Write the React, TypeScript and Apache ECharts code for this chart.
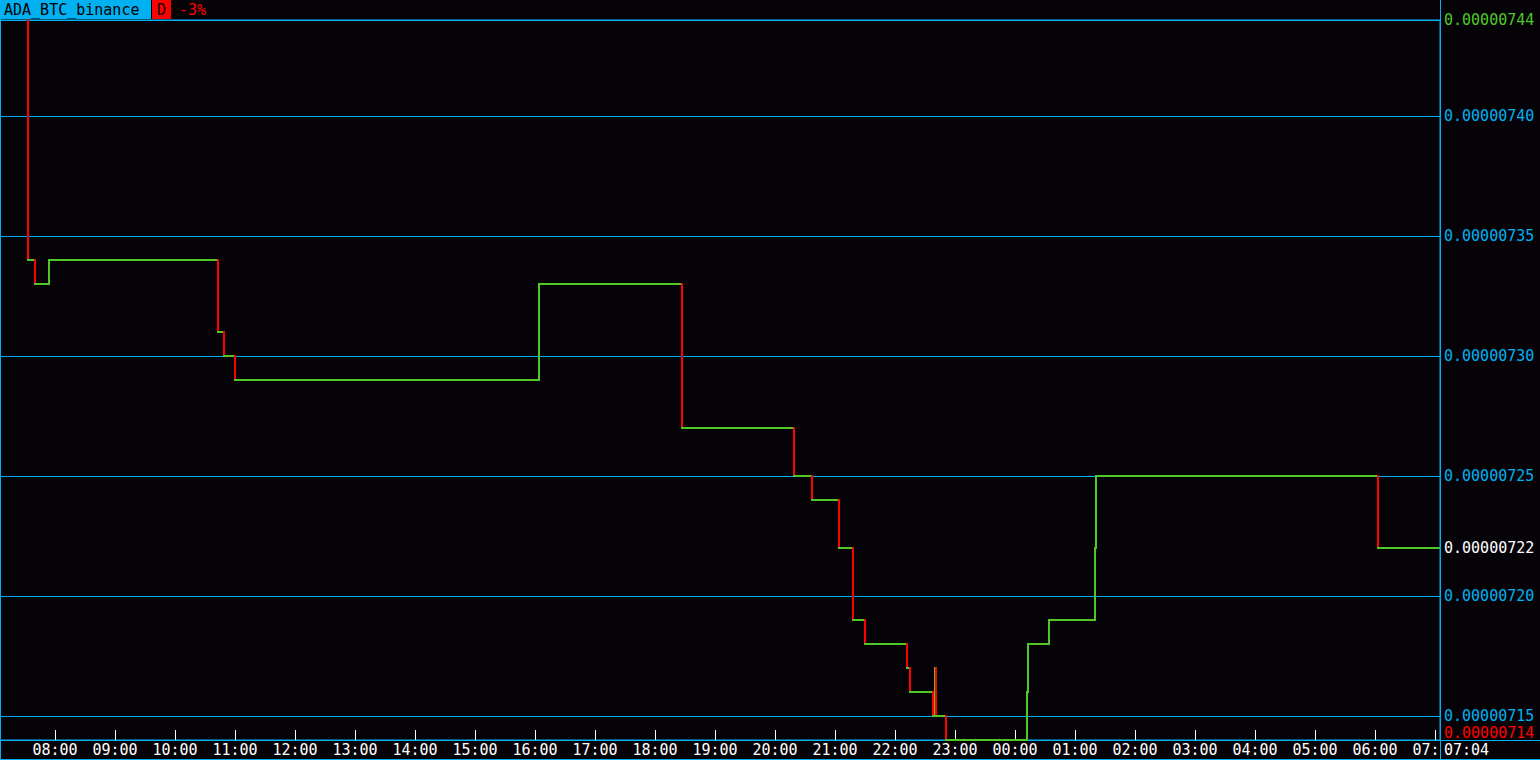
import React, { useEffect, useRef } from 'react';
import * as echarts from 'echarts';

// ---- data ----
const SYMBOL = 'ADA_BTC_binance';
const PERIOD = 'D';
const CHANGE = '-3%';
const SESSION_START = '07:05';
const LAST_TIME = '07:04';
const START_TIME = '07:33';
const START_PRICE = 0.00000744;
const CHANGE_TIMES = [
  '07:33', '07:40', '07:54', '10:43', '10:49', '11:00', '16:04', '18:27', '20:19', '20:37',
  '21:04', '21:18', '21:30', '22:12', '22:15', '22:38', '22:40', '22:41', '22:51', '00:12',
  '00:13', '00:34', '01:20', '01:21', '06:03',
];
const CHANGE_PRICES = [
  0.00000734, 0.00000733, 0.00000734, 0.00000731, 0.0000073, 0.00000729, 0.00000733, 0.00000727, 0.00000725, 0.00000724,
  0.00000722, 0.00000719, 0.00000718, 0.00000717, 0.00000716, 0.00000715, 0.00000717, 0.00000715, 0.00000714, 0.00000716,
  0.00000718, 0.00000719, 0.00000722, 0.00000725, 0.00000722,
];
const X_TICK_LABELS = [
  '08:00', '09:00', '10:00', '11:00', '12:00', '13:00', '14:00', '15:00', '16:00', '17:00', '18:00', '19:00',
  '20:00', '21:00', '22:00', '23:00', '00:00', '01:00', '02:00', '03:00', '04:00', '05:00', '06:00', '07:00',
];
const Y_GRID_VALUES = [0.00000715, 0.0000072, 0.00000725, 0.0000073, 0.00000735, 0.0000074, 0.00000744];
const Y_LABEL_VALUES = [0.00000715, 0.0000072, 0.00000722, 0.00000725, 0.0000073, 0.00000735, 0.0000074, 0.00000744];
const HIGH = 0.00000744;
const LOW = 0.00000714;
const LAST = 0.00000722;

// ---- styles ----
const BG = '#050308';
const CYAN = '#00b0f0';
const GREEN = '#50c828';
const RED = '#ff0000';
const WHITE = '#ffffff';
const FONT = 'DejaVu Sans Mono';

const startMin = (() => {
  const [h, m] = SESSION_START.split(':').map(Number);
  return h * 60 + m;
})();
function toMin(s: string): number {
  const [h, m] = s.split(':').map(Number);
  let v = h * 60 + m;
  if (v < startMin) v += 1440;
  return v;
}
function fmtMin(v: number): string {
  const t = ((Math.round(v) % 1440) + 1440) % 1440;
  const h = Math.floor(t / 60);
  const m = t % 60;
  return String(h).padStart(2, '0') + ':' + String(m).padStart(2, '0');
}
const same = (a: number, b: number) => Math.round(a * 1e9) === Math.round(b * 1e9);

function buildSegments() {
  const pts: [number, number][] = [[toMin(START_TIME), START_PRICE]];
  let prev = START_PRICE;
  CHANGE_TIMES.forEach((t, i) => {
    const x = toMin(t);
    pts.push([x, prev]);
    pts.push([x, CHANGE_PRICES[i]]);
    prev = CHANGE_PRICES[i];
  });
  pts.push([toMin(LAST_TIME), prev]);
  const segs: number[][] = [];
  for (let i = 1; i < pts.length; i++) {
    const a = pts[i - 1];
    const b = pts[i];
    if (a[0] === b[0] && same(a[1], b[1])) continue;
    const dir = b[1] < a[1] - 1e-12 ? -1 : 1;
    segs.push([a[0], a[1], b[0], b[1], dir]);
  }
  return segs;
}

export default function App() {
  const ref = useRef<HTMLDivElement>(null);
  useEffect(() => {
    document.body.style.margin = '0';
    document.body.style.background = BG;
    if (!ref.current) return;
    const chart = echarts.init(ref.current, null, { renderer: 'svg' });
    const xMin = startMin;
    const xMax = startMin + 1440;
    const xTicks = X_TICK_LABELS.map(toMin);
    const lastTick = xTicks[xTicks.length - 1];
    const option: any = {
      animation: false,
      backgroundColor: BG,
      grid: { left: 0, top: 20, width: 1440, height: 720, show: true, borderColor: CYAN, borderWidth: 1, backgroundColor: BG },
      xAxis: {
        type: 'value',
        min: xMin,
        max: xMax,
        axisLine: { show: true, lineStyle: { color: CYAN, width: 1 } },
        axisTick: {
          show: true,
          inside: true,
          length: 10,
          lineStyle: { color: WHITE, width: 1 },
          customValues: xTicks,
        },
        axisLabel: {
          customValues: xTicks,
          formatter: (v: number) => {
            const s = fmtMin(v);
            // the last hour label is cut by the price-scale border
            if (v === lastTick) return '{cut|' + s.slice(0, 3) + '}';
            return s;
          },
          rich: {
            cut: { color: WHITE, fontFamily: FONT, fontSize: 15, padding: [0, 18, 0, 0] },
          },
          color: WHITE,
          fontFamily: FONT,
          fontSize: 15,
          margin: 2,
          hideOverlap: false,
          showMinLabel: true,
          showMaxLabel: true,
        },
        splitLine: { show: false },
      },
      yAxis: [
        {
          type: 'value',
          position: 'right',
          min: LOW,
          max: HIGH,
          axisLine: { show: false },
          axisTick: { show: false, customValues: Y_GRID_VALUES },
          splitLine: { show: true, lineStyle: { color: CYAN, width: 1 } },
          axisLabel: {
            customValues: Y_LABEL_VALUES,
            margin: 4,
            fontFamily: FONT,
            fontSize: 15,
            showMinLabel: true,
            showMaxLabel: true,
            hideOverlap: false,
            formatter: (v: number) => {
              const s = v.toFixed(8);
              if (same(v, HIGH)) return '{hi|' + s + '}';
              if (same(v, LAST)) return '{last|' + s + '}';
              return '{n|' + s + '}';
            },
            rich: {
              hi: { color: GREEN, fontFamily: FONT, fontSize: 15 },
              last: { color: WHITE, fontFamily: FONT, fontSize: 15 },
              n: { color: CYAN, fontFamily: FONT, fontSize: 15 },
            },
          },
        },
        {
          // low-of-day label, sits just above the bottom edge
          type: 'value',
          position: 'right',
          min: LOW,
          max: HIGH,
          axisLine: { show: false },
          axisTick: { show: false },
          splitLine: { show: false },
          axisLabel: {
            customValues: [LOW],
            margin: 4,
            fontFamily: FONT,
            fontSize: 15,
            color: RED,
            verticalAlign: 'bottom',
            showMinLabel: true,
            formatter: (v: number) => v.toFixed(8),
          },
        },
      ],
      series: [
        {
          type: 'custom',
          z: 5,
          clip: false,
          yAxisIndex: 0,
          encode: { x: [0, 2], y: [1, 3] },
          data: buildSegments(),
          renderItem: (_params: any, api: any) => {
            const a = api.coord([api.value(0), api.value(1)]);
            const b = api.coord([api.value(2), api.value(3)]);
            const dir = api.value(4);
            return {
              type: 'line',
              shape: { x1: a[0], y1: a[1], x2: b[0], y2: b[1] },
              style: { stroke: dir < 0 ? RED : GREEN, lineWidth: 2, lineCap: 'square' },
            };
          },
        },
      ],
      graphic: [
        { type: 'line', z: 50, shape: { x1: 1440.5, y1: 0, x2: 1440.5, y2: 760 }, style: { stroke: CYAN, lineWidth: 1 } },
        { type: 'line', z: 50, shape: { x1: 0.5, y1: 0, x2: 0.5, y2: 760 }, style: { stroke: CYAN, lineWidth: 1 } },
        { type: 'line', z: 50, shape: { x1: 0, y1: 759.5, x2: 1540, y2: 759.5 }, style: { stroke: CYAN, lineWidth: 1 } },
        { type: 'line', z: 61, shape: { x1: 1440, y1: 740.5, x2: 1540, y2: 740.5 }, style: { stroke: CYAN, lineWidth: 1 } },
        {
          type: 'text', z: 62, x: 1444, y: 750,
          style: { text: LAST_TIME, fill: WHITE, font: `15px "${FONT}"`, verticalAlign: 'middle', align: 'left' },
        },
        { type: 'rect', z: 70, shape: { x: 0, y: 0, width: 151, height: 19 }, style: { fill: CYAN } },
        {
          type: 'text', z: 71, x: 4, y: 10,
          style: { text: SYMBOL, fill: '#000', font: `15px "${FONT}"`, verticalAlign: 'middle', align: 'left' },
        },
        { type: 'rect', z: 70, shape: { x: 152, y: 0, width: 19, height: 19 }, style: { fill: RED } },
        {
          type: 'text', z: 71, x: 161.5, y: 10,
          style: { text: PERIOD, fill: '#000', font: `15px "${FONT}"`, verticalAlign: 'middle', align: 'center' },
        },
        {
          type: 'text', z: 71, x: 179, y: 10,
          style: { text: CHANGE, fill: RED, font: `15px "${FONT}"`, verticalAlign: 'middle', align: 'left' },
        },
      ],
    };
    chart.setOption(option);
    return () => chart.dispose();
  }, []);
  return <div ref={ref} style={{ width: 1540, height: 760, background: BG }} />;
}
